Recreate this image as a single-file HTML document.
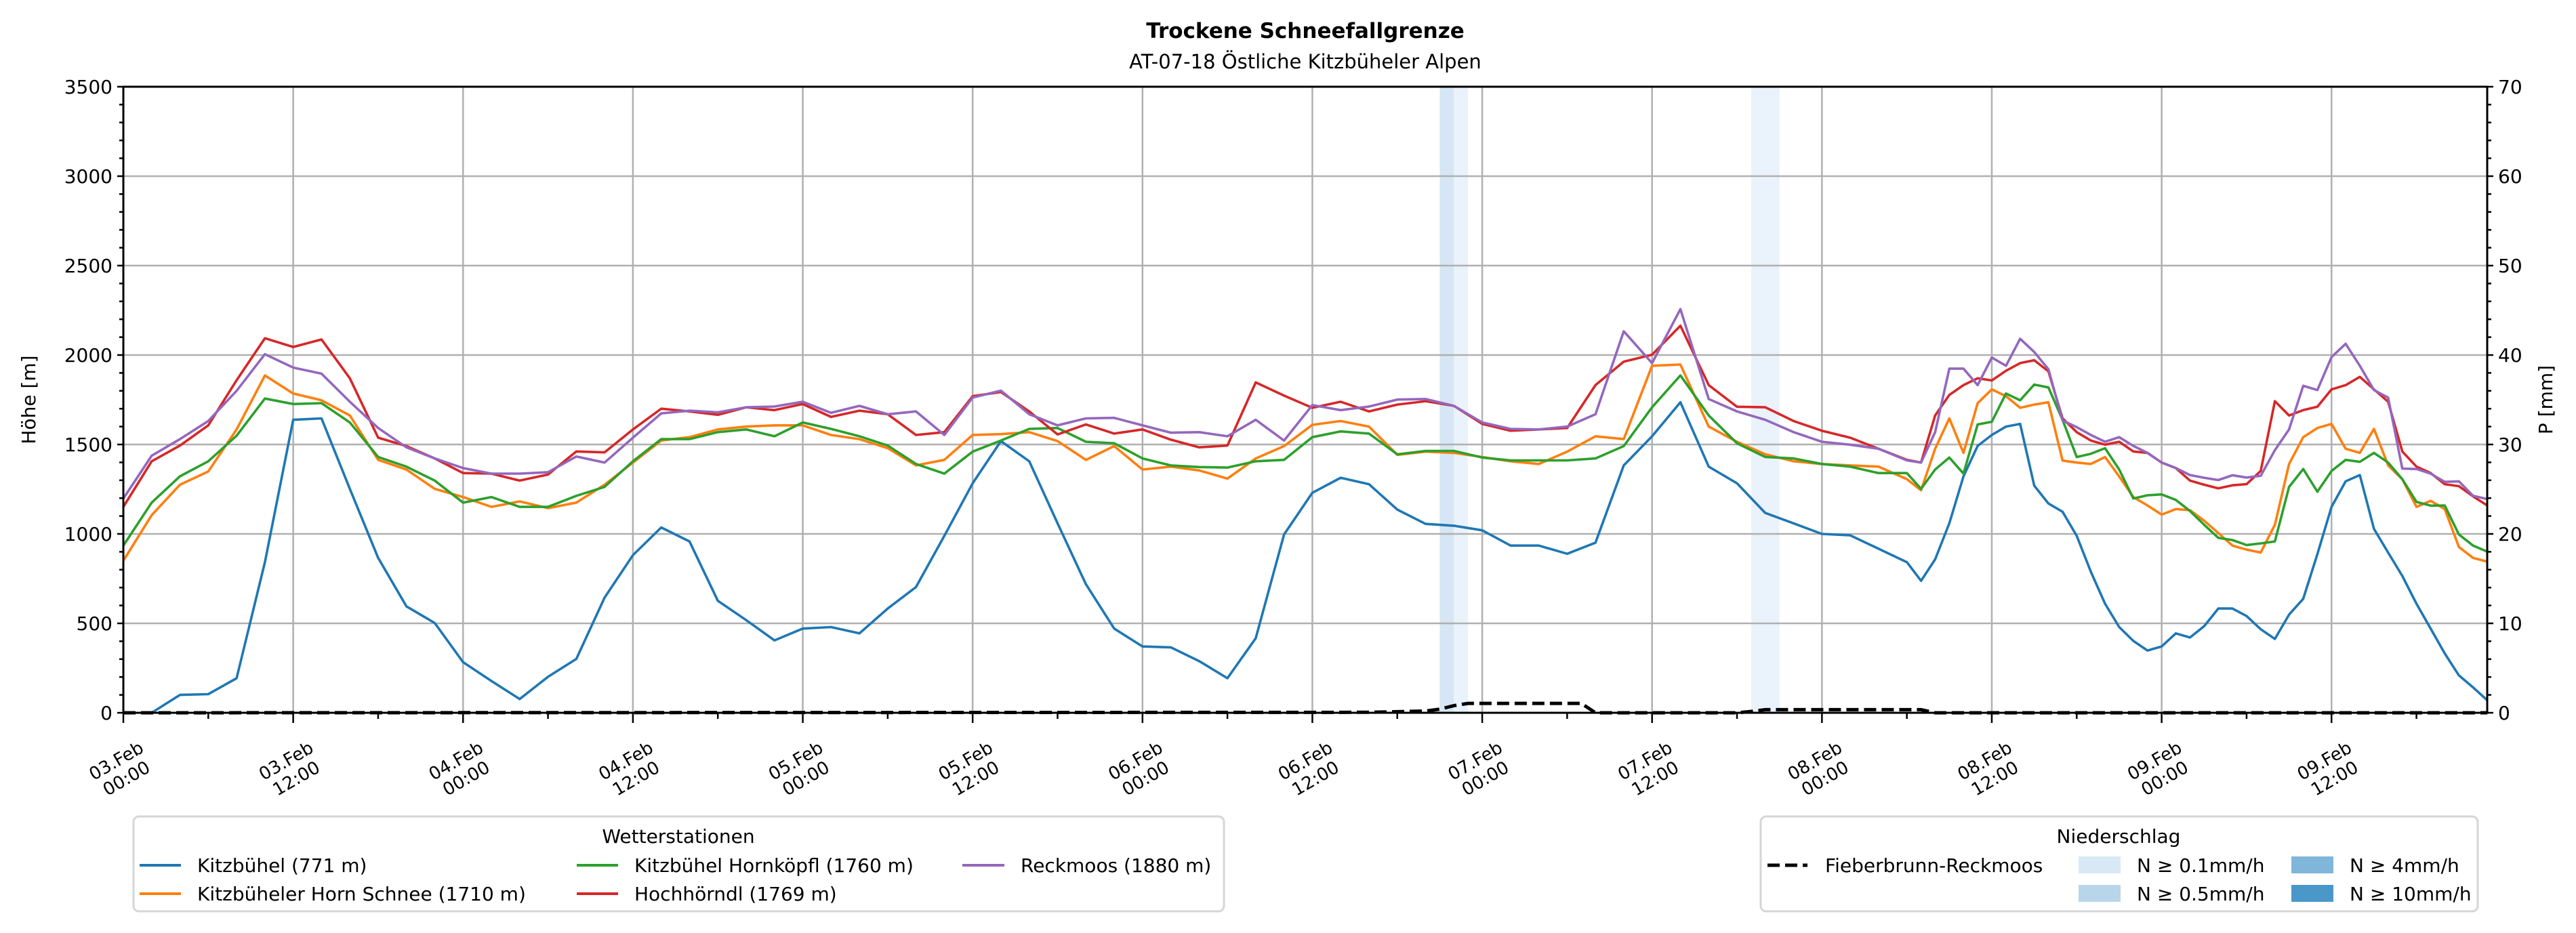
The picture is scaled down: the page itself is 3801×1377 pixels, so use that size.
<!DOCTYPE html>
<html><head><meta charset="utf-8">
<style>
html,body{margin:0;padding:0;background:#fff;}
svg{display:block;font-family:"DejaVu Sans","Liberation Sans",sans-serif;}
</style></head>
<body>
<svg id="chart" width="3801" height="1377" viewBox="0 0 3801 1377" xmlns="http://www.w3.org/2000/svg">
<rect x="0" y="0" width="3801" height="1377" fill="#fff"/>
<text x="1926" y="56" text-anchor="middle" font-size="31" font-weight="bold">Trockene Schneefallgrenze</text>
<text x="1926" y="101" text-anchor="middle" font-size="29">AT-07-18 Östliche Kitzbüheler Alpen</text>
<g id="bands"></g>
<g id="grid"></g>
<g id="series"></g>
<g id="axes"></g>
<text x="52" y="590" text-anchor="middle" font-size="28" transform="rotate(-90 52 590)">Höhe [m]</text>
<text x="3766" y="590" text-anchor="middle" font-size="28" transform="rotate(-90 3766 590)">P [mm]</text>

<g>
<rect x="197" y="1205" width="1609" height="140" rx="8" fill="#fff" stroke="#d6d6d6" stroke-width="3"/>
<text x="1001" y="1244" text-anchor="middle" font-size="28">Wetterstationen</text>
<g><line x1="206" y1="1277" x2="267" y2="1277" stroke="#1f77b4" stroke-width="4"/><text x="291" y="1287" font-size="28">Kitzbühel (771 m)</text></g>
<g><line x1="206" y1="1319" x2="267" y2="1319" stroke="#ff7f0e" stroke-width="4"/><text x="291" y="1329" font-size="28">Kitzbüheler Horn Schnee (1710 m)</text></g>
<g><line x1="851" y1="1277" x2="912" y2="1277" stroke="#2ca02c" stroke-width="4"/><text x="936" y="1287" font-size="28">Kitzbühel Hornköpfl (1760 m)</text></g>
<g><line x1="851" y1="1319" x2="912" y2="1319" stroke="#d62728" stroke-width="4"/><text x="936" y="1329" font-size="28">Hochhörndl (1769 m)</text></g>
<g><line x1="1420" y1="1277" x2="1482" y2="1277" stroke="#9467bd" stroke-width="4"/><text x="1506" y="1287" font-size="28">Reckmoos (1880 m)</text></g>
</g>

<g>
<rect x="2598" y="1205" width="1058" height="140" rx="8" fill="#fff" stroke="#d6d6d6" stroke-width="3"/>
<text x="3126" y="1244" text-anchor="middle" font-size="28">Niederschlag</text>
<g><line x1="2608" y1="1277" x2="2667" y2="1277" stroke="#000" stroke-width="5" stroke-dasharray="18,8"/><text x="2693" y="1287" font-size="28">Fieberbrunn-Reckmoos</text></g>
<g><rect x="3067" y="1264" width="62" height="25" fill="#d9e8f5"/><text x="3153" y="1287" font-size="28">N ≥ 0.1mm/h</text></g>
<g><rect x="3067" y="1306" width="62" height="25" fill="#b9d5ea"/><text x="3153" y="1329" font-size="28">N ≥ 0.5mm/h</text></g>
<g><rect x="3381" y="1264" width="62" height="25" fill="#7fb6d9"/><text x="3467" y="1287" font-size="28">N ≥ 4mm/h</text></g>
<g><rect x="3381" y="1306" width="62" height="25" fill="#4a97c9"/><text x="3467" y="1329" font-size="28">N ≥ 10mm/h</text></g>
</g>
</svg>
<script>
// ---- data ----
const hours = [0,2,4,6,8,10,12,14,16,18,20,22,24,26,28,30,32,34,36,38,40,42,44,46,48,50,52,54,56,58,60,62,64,66,68,70,72,74,76,78,80,82,84,86,88,90,92,94,96,98,100,102,104,106,108,110,112,114,116,118,120,122,124,126,127,128,129,130,131,132,133,134,135,136,137,138,139,140,141,142,143,144,145,146,147,148,149,150,151,152,153,154,155,156,157,158,159,160,161,162,163,164,165,166,167];
const kitzbuehel = [null,0,100,104,193,842,1638,1646,1252,866,595,502,283,178,77,201,301,644,881,1036,958,626,518,405,471,479,444,583,703,989,1283,1519,1406,1059,719,471,371,366,289,193,417,997,1230,1314,1278,1136,1056,1046,1020,935,935,889,951,1383,1546,1736,1376,1283,1117,1059,1000,992,917,842,738,858,1059,1322,1492,1553,1600,1615,1270,1170,1124,989,788,610,479,402,348,371,444,421,484,583,583,541,467,413,549,637,887,1151,1294,1329,1028,896,765,610,471,332,209,142,70];
const hornSchnee = [850,1105,1275,1349,1584,1886,1785,1747,1662,1414,1360,1252,1206,1151,1182,1144,1175,1275,1399,1522,1541,1584,1600,1607,1607,1553,1530,1479,1383,1414,1553,1558,1569,1519,1414,1491,1360,1376,1355,1309,1422,1491,1610,1631,1600,1442,1460,1453,1430,1406,1391,1460,1546,1530,1940,1947,1600,1515,1445,1406,1391,1383,1376,1306,1244,1476,1646,1453,1731,1808,1770,1705,1723,1736,1410,1399,1391,1430,1321,1206,1159,1108,1139,1133,1074,1005,935,912,896,1051,1391,1541,1592,1615,1476,1453,1587,1383,1306,1151,1185,1139,927,866,845];
const hornkoepfl = [935,1175,1322,1406,1549,1757,1726,1731,1623,1430,1376,1298,1175,1206,1151,1151,1213,1263,1406,1530,1530,1569,1584,1546,1623,1587,1546,1494,1391,1337,1460,1522,1587,1592,1515,1507,1422,1383,1374,1371,1406,1414,1541,1573,1561,1445,1464,1464,1427,1411,1411,1411,1422,1491,1708,1886,1662,1507,1430,1422,1391,1376,1340,1340,1252,1360,1427,1337,1612,1627,1785,1747,1835,1819,1638,1430,1448,1479,1360,1198,1216,1221,1190,1128,1051,978,966,938,947,958,1263,1363,1236,1352,1414,1403,1453,1399,1306,1179,1158,1159,997,935,901];
const hochhoerndl = [1151,1406,1494,1607,1859,2094,2045,2087,1870,1538,1491,1422,1340,1337,1298,1332,1461,1456,1584,1700,1685,1666,1708,1692,1726,1654,1689,1669,1553,1569,1770,1793,1685,1556,1612,1561,1584,1527,1484,1494,1847,1773,1705,1739,1685,1723,1742,1716,1615,1577,1584,1592,1832,1963,2002,2164,1832,1711,1708,1631,1577,1538,1476,1414,1399,1662,1777,1832,1870,1858,1912,1955,1971,1909,1646,1569,1522,1499,1515,1461,1453,1399,1368,1298,1275,1255,1272,1278,1352,1742,1662,1692,1711,1808,1832,1878,1808,1739,1461,1376,1340,1278,1267,1210,1159];
const reckmoos = [1198,1437,1530,1631,1800,2005,1930,1896,1739,1592,1484,1422,1368,1337,1337,1345,1433,1399,1538,1674,1689,1680,1708,1712,1739,1677,1716,1669,1685,1553,1762,1801,1669,1607,1646,1649,1607,1566,1569,1546,1638,1522,1720,1692,1712,1751,1754,1716,1623,1587,1584,1600,1669,2133,1955,2257,1754,1685,1638,1569,1515,1499,1476,1411,1399,1569,1924,1924,1832,1986,1940,2091,2017,1921,1634,1597,1553,1515,1541,1492,1453,1399,1368,1329,1314,1301,1328,1315,1325,1468,1584,1828,1804,1989,2063,1940,1804,1762,1365,1363,1337,1291,1294,1213,1195];
const precipHours = [0,88,92,93,94,95,103,104,114,115,116,127,128,167];
const precipMm = [0,0.05,0.2,0.4,0.8,1.05,1.05,0,0,0.15,0.35,0.35,0,0];
const bandStart = [93,94,115];
const bandEnd = [94,95,117];
const bandColor = ["#d6e6f4","#eaf2fb","#eaf2fb"];
const yTicks = [0,500,1000,1500,2000,2500,3000,3500];
const y2Ticks = [0,10,20,30,40,50,60,70];
const xTickHours = [0,12,24,36,48,60,72,84,96,108,120,132,144,156];
const xTickDays = ["03.Feb","03.Feb","04.Feb","04.Feb","05.Feb","05.Feb","06.Feb","06.Feb","07.Feb","07.Feb","08.Feb","08.Feb","09.Feb","09.Feb"];
const xTickTimes = ["00:00","12:00","00:00","12:00","00:00","12:00","00:00","12:00","00:00","12:00","00:00","12:00","00:00","12:00"];

// ---- layout ----
const L=182,R=3670,T=128,B=1052,HMAX=167;
const NS="http://www.w3.org/2000/svg";
const xs=h=>L+(R-L)*h/HMAX;
const ys=v=>B-(B-T)*v/3500;
const ys2=p=>B-(B-T)*p/70;
function mk(tag,attrs,parent){const e=document.createElementNS(NS,tag);for(const k in attrs)e.setAttribute(k,attrs[k]);parent.appendChild(e);return e;}
const gBands=document.getElementById('bands'),gGrid=document.getElementById('grid'),gSer=document.getElementById('series'),gAx=document.getElementById('axes');

bandStart.forEach((s,i)=>{
  const r=mk('rect',{x:xs(s),y:T,width:xs(bandEnd[i])-xs(s),height:B-T,fill:bandColor[i]},gBands);
  
  
});
yTicks.forEach(v=>{
  const l=mk('line',{x1:L,x2:R,y1:ys(v),y2:ys(v),stroke:'#b0b0b0','stroke-width':2.5},gGrid);
  
  
});
xTickHours.forEach(h=>{
  const l=mk('line',{x1:xs(h),x2:xs(h),y1:T,y2:B,stroke:'#b0b0b0','stroke-width':2.5},gGrid);
  
  
});

const seriesList=[[kitzbuehel,'#1f77b4','line-kitzbuehel'],[hornSchnee,'#ff7f0e','line-kitzbueheler-horn'],[hornkoepfl,'#2ca02c','line-hornkoepfl'],[hochhoerndl,'#d62728','line-hochhoerndl'],[reckmoos,'#9467bd','line-reckmoos']];
seriesList.forEach(([vals,col,name])=>{
  let d='';let pen=false;
  vals.forEach((v,i)=>{if(v===null){pen=false;return;}d+=(pen?'L':'M')+xs(hours[i]).toFixed(1)+' '+ys(v).toFixed(1)+' ';pen=true;});
  const p=mk('path',{d:d,fill:'none',stroke:col,'stroke-width':3.6,'stroke-linejoin':'round'},gSer);
  
  
});
{
  let d='';precipHours.forEach((h,i)=>{d+=(i?'L':'M')+xs(h).toFixed(1)+' '+ys2(precipMm[i]).toFixed(1)+' ';});
  const p=mk('path',{d:d,fill:'none',stroke:'#000','stroke-width':5,'stroke-dasharray':'18,8'},gSer);
  
  
}

// axes frame
const fr=mk('rect',{x:L,y:T,width:R-L,height:B-T,fill:'none',stroke:'#000','stroke-width':3},gAx);


for(let v=0;v<=3500;v+=100){
  const major=v%500===0;const len=major?9:6;
  mk('line',{x1:L-len,x2:L,y1:ys(v),y2:ys(v),stroke:'#000','stroke-width':2.5},gAx);
  mk('line',{x1:R,x2:R+len,y1:ys(v),y2:ys(v),stroke:'#000','stroke-width':2.5},gAx);
}
yTicks.forEach(v=>{
  const t=mk('text',{x:L-16,y:ys(v)+10,'text-anchor':'end','font-size':28},gAx);
  t.textContent=v;
  
  
});
y2Ticks.forEach(p=>{
  const t=mk('text',{x:R+16,y:ys2(p)+10,'text-anchor':'start','font-size':28},gAx);
  t.textContent=p;
  
  
});
for(let h=6;h<=HMAX;h+=12){mk('line',{x1:xs(h),x2:xs(h),y1:B,y2:B+9,stroke:'#000','stroke-width':2.5},gAx);}
xTickHours.forEach((h,i)=>{
  mk('line',{x1:xs(h),x2:xs(h),y1:B,y2:B+15,stroke:'#000','stroke-width':2.5},gAx);
  const cx=xs(h)-4,cy=1134;
  const t=mk('text',{x:cx,y:cy,'text-anchor':'middle','font-size':26,transform:'rotate(-30 '+cx+' '+cy+')'},gAx);
  
  
  const a=mk('tspan',{x:cx,dy:-4},t);a.textContent=xTickDays[i];
  const b=mk('tspan',{x:cx,dy:30},t);b.textContent=xTickTimes[i];
});
</script>
</body></html>
